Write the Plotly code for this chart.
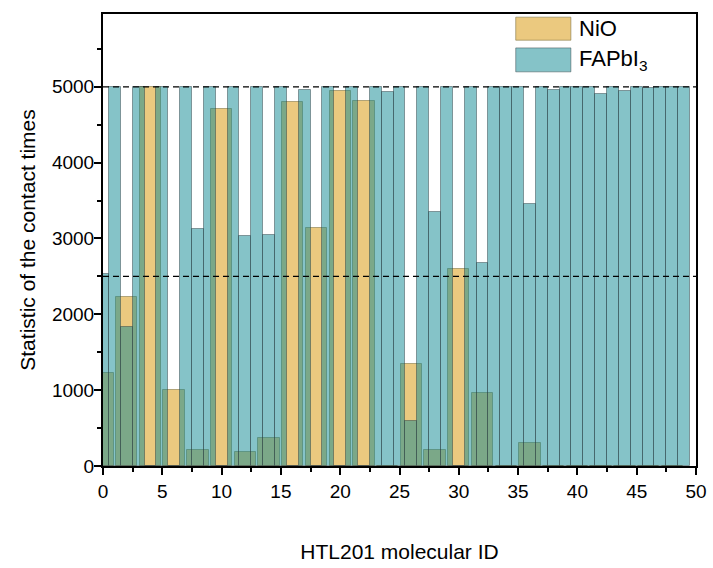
import plotly.graph_objects as go

# ---- data ----
fapbi3_ids = list(range(0, 50))
fapbi3_vals = [2530, 5000, 1834, 5000, 0, 5000, 0, 5000, 3130, 5000,
               0, 5000, 3035, 5000, 3050, 5000, 0, 4960, 0, 5000,
               0, 5000, 0, 5000, 4925, 5000, 590, 5000, 3355, 5000,
               0, 5000, 2680, 5000, 5000, 5000, 3450, 5000, 4960, 5000,
               5000, 5000, 4900, 5000, 4940, 5000, 4990, 5000, 5000, 5000]

nio_ids = list(range(0, 50, 2))
nio_vals = [1225, 2230, 5000, 1005, 210, 4712, 185, 370, 4795, 3135,
            4950, 4815, 0, 1350, 210, 2603, 965, 0, 300, 0,
            0, 0, 0, 0, 0]

ref_lines = [5000, 2500]
x_ticks = list(range(0, 51, 5))
y_ticks = list(range(0, 6000, 1000))

FONT = "Arial, Liberation Sans, sans-serif"
NIO_FILL = "rgb(235,201,127)"
NIO_LINE = "rgba(120,110,60,0.55)"
FAP_FILL = "rgba(11,135,145,0.5)"
FAP_LINE = "rgba(40,55,60,0.45)"

fig = go.Figure()
fig.add_trace(go.Bar(x=nio_ids, y=nio_vals, width=1.8, name="NiO",
                     marker=dict(color=NIO_FILL, line=dict(color=NIO_LINE, width=1))))
fig.add_trace(go.Bar(x=fapbi3_ids, y=fapbi3_vals, width=1.0, name="FAPbI<sub>3</sub>",
                     marker=dict(color=FAP_FILL, line=dict(color=FAP_LINE, width=1))))

shapes = []
for v in ref_lines:
    shapes.append(dict(type="line", xref="x", yref="y", x0=0, x1=50, y0=v, y1=v,
                       line=dict(color="black", width=1.2, dash="6px,4px")))

# legend (drawn in paper coordinates)
legend_items = [("NiO", NIO_FILL, NIO_LINE, 0.942, 0.993),
                ("FAPbI<sub>3</sub>", FAP_FILL, FAP_LINE, 0.872, 0.925)]
annotations = []
for label, fill, line, y0, y1 in legend_items:
    shapes.append(dict(type="rect", xref="paper", yref="paper", x0=0.696, x1=0.789,
                       y0=y0, y1=y1, fillcolor=fill, line=dict(color=line, width=1)))
    annotations.append(dict(xref="paper", yref="paper", x=0.800, y=(y0 + y1) / 2,
                            text=label, showarrow=False, xanchor="left", yanchor="middle",
                            font=dict(family=FONT, size=22, color="black")))

axis_common = dict(showline=True, linecolor="black", linewidth=2, mirror=True,
                   ticks="outside", ticklen=7, tickwidth=1.5, tickcolor="black",
                   showgrid=False, zeroline=False, automargin=False,
                   tickfont=dict(family=FONT, size=19, color="black"))

fig.update_layout(
    width=713, height=568,
    margin=dict(l=103, r=17, t=14, b=102),
    plot_bgcolor="white", paper_bgcolor="white",
    barmode="overlay", bargap=0, showlegend=False,
    shapes=shapes, annotations=annotations,
    xaxis=dict(range=[0, 50], tickvals=x_ticks,
               minor=dict(ticks="outside", ticklen=4, tickwidth=1.5, tickcolor="black",
                          dtick=2.5, tick0=0),
               title=dict(text="HTL201 molecular ID", font=dict(family=FONT, size=21, color="black"),
                          standoff=44),
               **axis_common),
    yaxis=dict(range=[0, 5960], tickvals=y_ticks, ticklabelstandoff=-4,
               minor=dict(ticks="outside", ticklen=4, tickwidth=1.5, tickcolor="black",
                          dtick=500, tick0=0),
               title=dict(text="Statistic of the contact times",
                          font=dict(family=FONT, size=21, color="black"), standoff=11),
               **axis_common),
)

fig.write_html("out.html", config={"displayModeBar": False},
               post_script="document.body.style.margin='0px';document.body.style.overflow='hidden';")
